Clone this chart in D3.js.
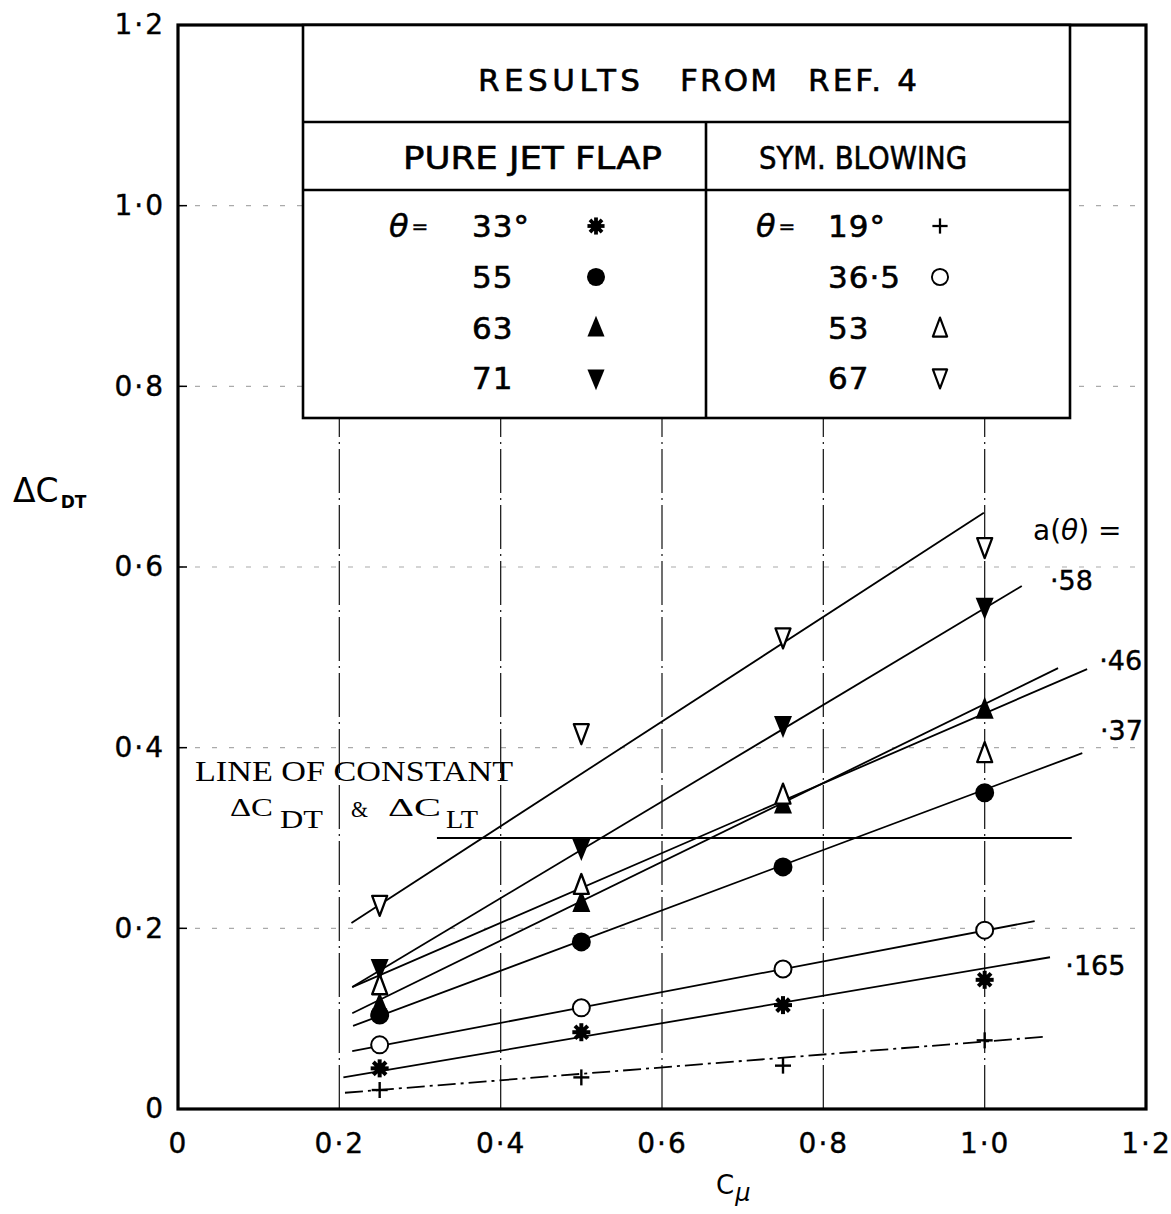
<!DOCTYPE html>
<html><head><meta charset="utf-8">
<script src="https://cdn.jsdelivr.net/npm/d3@7"></script>
<style>body{margin:0;background:#fff;} svg{display:block;}</style>
</head><body>
<svg id="c" width="1171" height="1214"></svg>
<script>
// ---------- data ----------
const xTicks = [0, 0.2, 0.4, 0.6, 0.8, 1.0, 1.2];
const yTicks = [0, 0.2, 0.4, 0.6, 0.8, 1.0, 1.2];
const gridX = [0.2, 0.4, 0.6, 0.8, 1.0];
const gridY = [0.2, 0.4, 0.6, 0.8, 1.0];
const cmu = [0.25, 0.5, 0.75, 1.0];

// pure jet flap
const jet33 = [0.045, 0.085, 0.115, 0.143];
const jet55 = [0.104, 0.185, 0.268, 0.350];
const jet63 = [0.115, 0.228, 0.337, 0.442];
const jet71 = [0.156, 0.289, 0.425, 0.556];
// symmetrical blowing
const sym19  = [0.021, 0.035, 0.048, 0.076];
const sym365 = [0.071, 0.112, 0.155, 0.198];
const sym53  = [0.137, 0.248, 0.348, 0.394];
const sym67  = [0.226, 0.416, 0.522, 0.622];

// fitted lines: [x0, y0, x1, y1]
const line67  = [0.215, 0.206, 0.999, 0.660];
const line58  = [0.216, 0.135, 1.046, 0.579];
const line46a = [0.216, 0.135, 1.127, 0.487];
const line46b = [0.216, 0.106, 1.091, 0.488];
const line37  = [0.217, 0.092, 1.121, 0.394];
const lineOC  = [0.216, 0.064, 1.062, 0.208];
const line165 = [0.205, 0.035, 1.081, 0.168];
const linePl  = [0.207, 0.018, 1.075, 0.080];
const constLine = [0.321, 0.300, 1.108, 0.300];

const slopeLabels = ["·58", "·46", "·37", "·165"];
const slopeLabelPos = [[1.081, 0.586], [1.142, 0.497], [1.143, 0.420], [1.100, 0.159]];

const jetThetas = ["33°", "55", "63", "71"];
const symThetas = ["19°", "36·5", "53", "67"];

// ---------- setup ----------
const svg = d3.select("#c");
const x = d3.scaleLinear([0, 1.2], [178, 1146]);
const y = d3.scaleLinear([0, 1.2], [1109, 25]);
const SANS = "'DejaVu Sans', sans-serif";
const SERIF = "'Liberation Serif', 'DejaVu Serif', serif";
const fmt = v => v === 0 ? "0" : d3.format(".1f")(v).replace(".", "·");

// gridlines
svg.append("g").selectAll("line").data(gridY).join("line")
  .attr("x1", x(0)).attr("x2", x(1.2)).attr("y1", d => y(d)).attr("y2", d => y(d))
  .attr("stroke", "#aaa").attr("stroke-width", 1.1).attr("stroke-dasharray", "5,12");
svg.append("g").selectAll("line").data(gridX).join("line")
  .attr("x1", d => x(d)).attr("x2", d => x(d)).attr("y1", y(0)).attr("y2", y(0.765))
  .attr("stroke", "#222").attr("stroke-width", 1.3).attr("stroke-dasharray", "44,5,2,5");

// frame
svg.append("rect").attr("x", x(0)).attr("y", y(1.2))
  .attr("width", x(1.2) - x(0)).attr("height", y(0) - y(1.2))
  .attr("fill", "none").attr("stroke", "#000").attr("stroke-width", 3.2);

// axes labels
const ax = svg.append("g").attr("transform", `translate(0,${y(0)})`)
  .call(d3.axisBottom(x).tickValues(xTicks).tickFormat(fmt).tickSize(0).tickPadding(24));
const ay = svg.append("g").attr("transform", `translate(${x(0)},0)`)
  .call(d3.axisLeft(y).tickValues(yTicks).tickFormat(fmt).tickSize(0).tickPadding(13));
[ax, ay].forEach(a => {
  a.select(".domain").remove();
  a.selectAll("text").attr("font-family", SANS).attr("font-size", 28)
    .attr("fill", "#000").attr("stroke", "#000").attr("stroke-width", 0.4)
    .style("letter-spacing", "2px");
});

// small inward ticks on left axis
svg.append("g").selectAll("line").data(gridY).join("line")
  .attr("x1", x(0)).attr("x2", x(0) + 9).attr("y1", d => y(d)).attr("y2", d => y(d))
  .attr("stroke", "#000").attr("stroke-width", 1.5);

// axis titles
const yt = svg.append("text").attr("x", 13).attr("y", 502).attr("font-family", SANS).attr("fill", "#000");
yt.append("tspan").attr("font-size", 33).text("ΔC");
yt.append("tspan").attr("font-size", 17).attr("font-weight", "bold").attr("dy", 6).attr("dx", 2).text("DT");
const xt = svg.append("text").attr("x", 716).attr("y", 1194).attr("font-family", SANS).attr("fill", "#000");
xt.append("tspan").attr("font-size", 26).text("C");
xt.append("tspan").attr("font-size", 24).attr("font-style", "italic").attr("dy", 7).attr("dx", 1).text("μ");

// ---------- fitted lines ----------
const fits = [
  {d: line67}, {d: line58}, {d: line46a}, {d: line46b}, {d: line37},
  {d: lineOC}, {d: line165}, {d: linePl, dash: "18,5,3,5"}, {d: constLine}
];
svg.append("g").selectAll("line").data(fits).join("line")
  .attr("x1", f => x(f.d[0])).attr("y1", f => y(f.d[1]))
  .attr("x2", f => x(f.d[2])).attr("y2", f => y(f.d[3]))
  .attr("stroke", "#000").attr("stroke-width", 1.8)
  .attr("stroke-dasharray", f => f.dash || null);

// ---------- markers ----------
function marker(sel, type, cx, cy, s = 1) {
  const g = sel.append("g").attr("transform", `translate(${cx},${cy}) scale(${s})`);
  switch (type) {
    case "asterisk":
      [0, 45, 90, 135].forEach(a => g.append("line")
        .attr("x1", 0).attr("y1", -9).attr("x2", 0).attr("y2", 9)
        .attr("transform", `rotate(${a})`).attr("stroke", "#000").attr("stroke-width", 4));
      g.append("circle").attr("r", 5.5).attr("fill", "#000");
      break;
    case "dot":
      g.append("circle").attr("r", 9.5).attr("fill", "#000");
      break;
    case "circleOpen":
      g.append("circle").attr("r", 8.5).attr("fill", "#fff").attr("stroke", "#000").attr("stroke-width", 2);
      break;
    case "triUpFilled":
      g.append("path").attr("d", "M0,-13L9,9L-9,9Z").attr("fill", "#000");
      break;
    case "triDownFilled":
      g.append("path").attr("d", "M0,13L9,-9L-9,-9Z").attr("fill", "#000");
      break;
    case "triUpOpen":
      g.append("path").attr("d", "M0,-11L7.5,9L-7.5,9Z").attr("fill", "#fff").attr("stroke", "#000").attr("stroke-width", 2.3).attr("stroke-linejoin", "round");
      break;
    case "triDownOpen":
      g.append("path").attr("d", "M0,11L7.5,-9L-7.5,-9Z").attr("fill", "#fff").attr("stroke", "#000").attr("stroke-width", 2.3).attr("stroke-linejoin", "round");
      break;
    case "plus":
      g.append("line").attr("x1", -8).attr("x2", 8).attr("stroke", "#000").attr("stroke-width", 2.4);
      g.append("line").attr("y1", -8).attr("y2", 8).attr("stroke", "#000").attr("stroke-width", 2.4);
      break;
  }
}

const series = [
  {v: jet33, m: "asterisk"}, {v: jet55, m: "dot"}, {v: jet63, m: "triUpFilled"}, {v: jet71, m: "triDownFilled"},
  {v: sym19, m: "plus"}, {v: sym365, m: "circleOpen"}, {v: sym53, m: "triUpOpen"}, {v: sym67, m: "triDownOpen"}
];
const mg = svg.append("g");
series.forEach(s => s.v.forEach((val, i) => marker(mg, s.m, x(cmu[i]), y(val))));

// slope labels
svg.append("g").selectAll("text").data(slopeLabels).join("text")
  .attr("x", (d, i) => x(slopeLabelPos[i][0])).attr("y", (d, i) => y(slopeLabelPos[i][1]) + 10)
  .attr("font-family", SANS).attr("font-size", 27).attr("fill", "#000")
  .attr("stroke", "#000").attr("stroke-width", 0.4)
  .text(d => d);
const at = svg.append("text").attr("x", 1033).attr("y", 540).attr("font-family", SANS).attr("font-size", 28).attr("fill", "#000");
at.append("tspan").text("a(");
at.append("tspan").attr("font-style", "italic").text("θ");
at.append("tspan").text(") =");

// constant line note
function stext(str, x0, yb, len, fs) {
  return svg.append("text").attr("x", x0).attr("y", yb).attr("font-family", SERIF).attr("font-size", fs)
    .attr("textLength", len).attr("lengthAdjust", "spacingAndGlyphs").attr("fill", "#000").text(str);
}
stext("LINE OF CONSTANT", 195, 781, 318, 29);
stext("ΔC", 230, 816, 43, 25);
stext("DT", 280, 828, 43, 25);
stext("&", 351, 817, 17, 24);
stext("ΔC", 388, 816, 53, 25);
stext("LT", 446, 828, 32, 25);

// ---------- legend table ----------
const tb = svg.append("g");
tb.append("rect").attr("x", 303).attr("y", 25).attr("width", 767).attr("height", 393)
  .attr("fill", "#fff").attr("stroke", "#000").attr("stroke-width", 2.6);
[[303, 122, 1070, 122], [303, 190, 1070, 190], [706, 122, 706, 418]].forEach(l =>
  tb.append("line").attr("x1", l[0]).attr("y1", l[1]).attr("x2", l[2]).attr("y2", l[3])
    .attr("stroke", "#000").attr("stroke-width", 2.6));

function ttext(str, x0, yc, len, fs = 30, adj = "spacingAndGlyphs") {
  const t = tb.append("text").attr("x", x0).attr("y", yc + 0.36 * fs)
    .attr("font-family", SANS).attr("font-size", fs).attr("fill", "#000")
    .attr("stroke", "#000").attr("stroke-width", 0.6).text(str);
  if (len) t.attr("textLength", len).attr("lengthAdjust", adj);
  return t;
}
ttext("RESULTS", 478, 80, 162, 31, "spacing");
ttext("FROM", 680, 80, 97, 31, "spacing");
ttext("REF. 4", 808, 80, 109, 31, "spacing");
ttext("PURE JET FLAP", 403, 157, 259, 32);
ttext("SYM. BLOWING", 759, 157, 208, 32);

const rowY = [226, 277, 328, 378];
const jetM = ["asterisk", "dot", "triUpFilled", "triDownFilled"];
const symM = ["plus", "circleOpen", "triUpOpen", "triDownOpen"];
function theta(x0, yc) {
  const t = tb.append("text").attr("x", x0).attr("y", yc + 11).attr("font-family", SANS).attr("font-size", 32)
    .attr("fill", "#000").attr("stroke", "#000").attr("stroke-width", 0.5);
  t.append("tspan").attr("font-style", "italic").text("θ");
  t.append("tspan").attr("font-size", 20).attr("dx", 3).attr("dy", -4).text("=");
}
theta(389, rowY[0]);
theta(756, rowY[0]);
jetThetas.forEach((s, i) => {
  ttext(s, 472, rowY[i], null, 31).style("letter-spacing", "1px");
  marker(tb, jetM[i], 596, rowY[i], 0.95);
});
symThetas.forEach((s, i) => {
  ttext(s, 828, rowY[i], null, 31).style("letter-spacing", "1px");
  marker(tb, symM[i], 940, rowY[i], 0.95);
});
</script>
</body></html>
